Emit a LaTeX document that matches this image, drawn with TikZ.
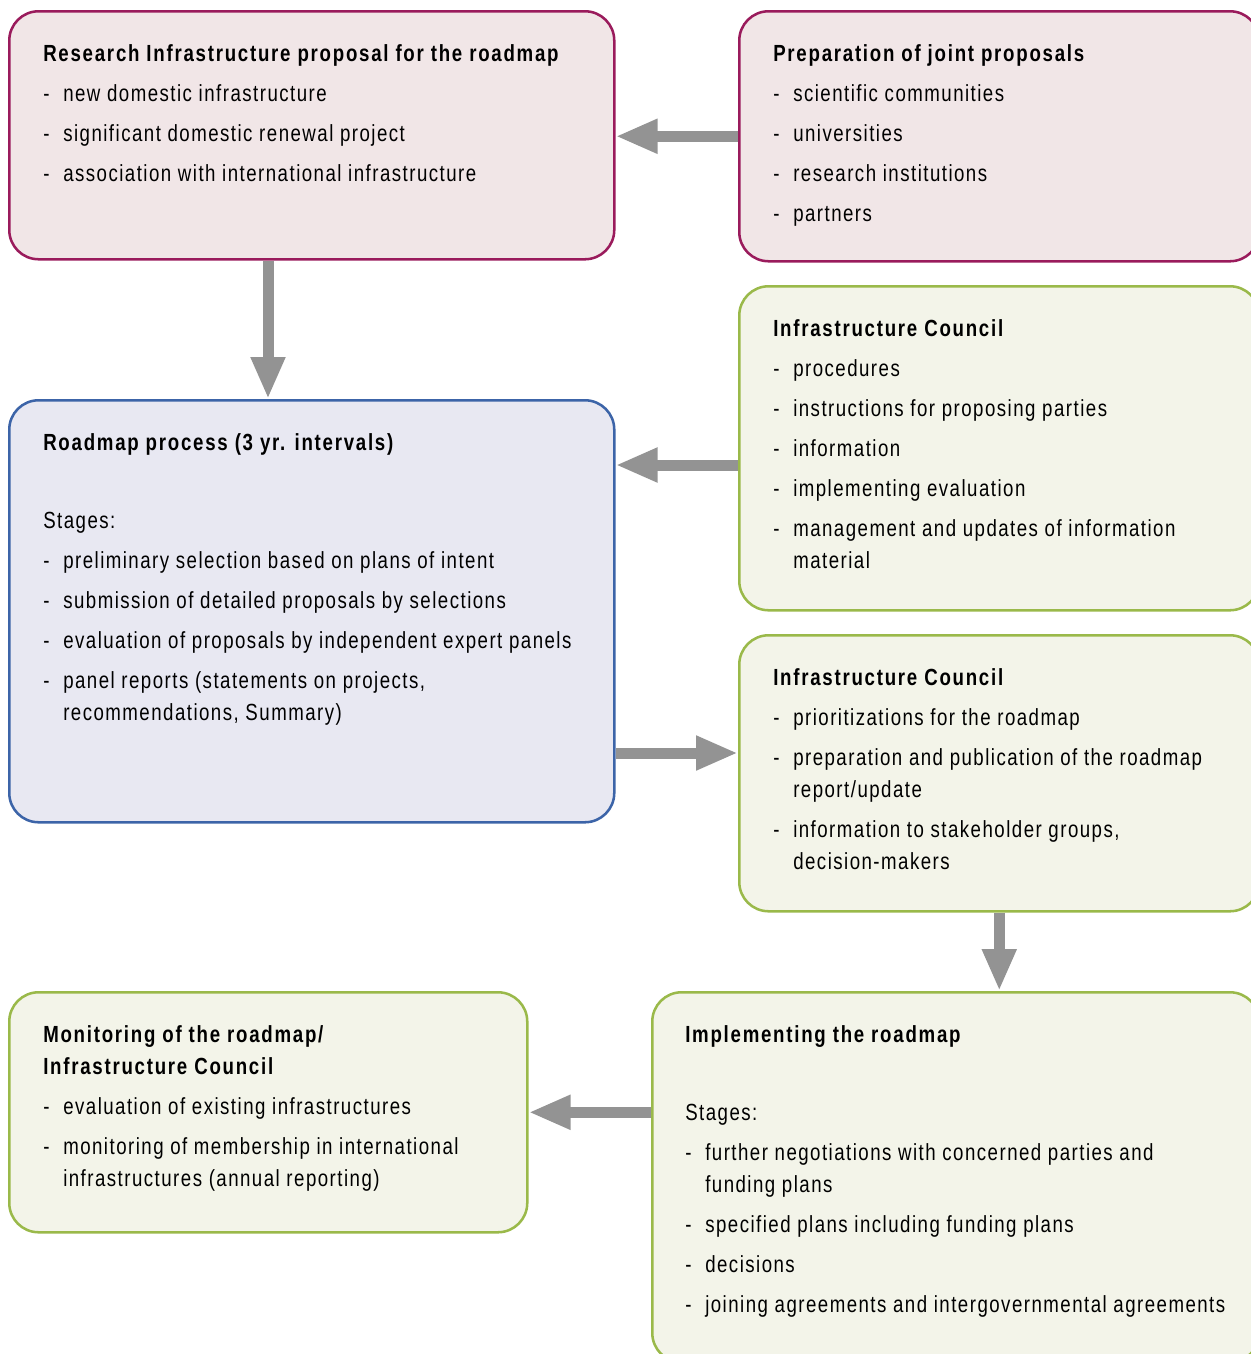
\documentclass[tikz,border=0pt]{standalone}
\usepackage{fontspec}
\setmainfont{Liberation Sans}[FakeStretch=0.8,LetterSpace=6.3,BoldFeatures={LetterSpace=7.5}]
\usetikzlibrary{arrows.meta,calc}

\definecolor{rimred}{HTML}{9A1B5C}
\definecolor{fillred}{HTML}{F1E6E7}
\definecolor{rimgreen}{HTML}{9AB94A}
\definecolor{fillgreen}{HTML}{F3F4E9}
\definecolor{rimblue}{HTML}{3C64A8}
\definecolor{fillblue}{HTML}{E8E8F2}
\definecolor{arrowgrey}{HTML}{939393}

\newcommand{\itm}[1]{\makebox[15pt][l]{-}#1}
\newcommand{\cnt}[1]{\hspace*{15pt}#1}

\begin{document}
\begin{tikzpicture}[x=0.75pt,y=0.75pt,yscale=-1,xscale=1,
  box/.style={draw,line width=1.9pt,rounded corners=22pt,anchor=north west,inner sep=0pt},
  redbox/.style={box,draw=rimred,fill=fillred},
  greenbox/.style={box,draw=rimgreen,fill=fillgreen},
  bluebox/.style={box,draw=rimblue,fill=fillblue},
  txt/.style={anchor=north west,inner sep=0pt,align=left,font=\fontsize{17.5}{24}\selectfont},
  flow/.style={draw=arrowgrey,line width=8.25pt,-{Triangle[length=31.5pt,width=24pt,fill=arrowgrey]}}]
\useasboundingbox (0,0) rectangle (1251,1354);

% boxes
\node[redbox,minimum width=453.75pt,minimum height=186pt] (res) at (8,10) {};
\node[redbox,minimum width=390pt,minimum height=187.5pt] (prep) at (738,10) {};
\node[greenbox,minimum width=390pt,minimum height=243pt] (ic1) at (738,285) {};
\node[bluebox,minimum width=453.75pt,minimum height=316.5pt] (road) at (8,399) {};
\node[greenbox,minimum width=390pt,minimum height=207pt] (ic2) at (738,634) {};
\node[greenbox,minimum width=455.25pt,minimum height=277.5pt] (impl) at (651,991) {};
\node[greenbox,minimum width=388.5pt,minimum height=180pt] (mon) at (8,991) {};

% texts
\node[txt] (restxt) at (43,38.6) {\strut\textbf{Research Infrastructure proposal for the roadmap}\\[6pt]
  \itm{new domestic infrastructure}\\[6pt]
  \itm{significant domestic renewal project}\\[6pt]
  \itm{association with international infrastructure}};
\node[txt] (preptxt) at (773,38.6) {\strut\textbf{Preparation of joint proposals}\\[6pt]
  \itm{scientific communities}\\[6pt]
  \itm{universities}\\[6pt]
  \itm{research institutions}\\[6pt]
  \itm{partners}};
\node[txt] (ic1txt) at (773,313.6) {\strut\textbf{Infrastructure Council}\\[6pt]
  \itm{procedures}\\[6pt]
  \itm{instructions for proposing parties}\\[6pt]
  \itm{information}\\[6pt]
  \itm{implementing evaluation}\\[6pt]
  \itm{management and updates of information}\\
  \cnt{material}};
\node[txt] (roadtxt) at (43,427.6) {\strut\textbf{Roadmap process (3 yr. intervals)}\\[35pt]
  Stages:\\[6pt]
  \itm{preliminary selection based on plans of intent}\\[6pt]
  \itm{submission of detailed proposals by selections}\\[6pt]
  \itm{evaluation of proposals by independent expert panels}\\[6pt]
  \itm{panel reports (statements on projects,}\\
  \cnt{recommendations, Summary)}};
\node[txt] (ic2txt) at (773,662.6) {\strut\textbf{Infrastructure Council}\\[6pt]
  \itm{prioritizations for the roadmap}\\[6pt]
  \itm{preparation and publication of the roadmap}\\
  \cnt{report/update}\\[6pt]
  \itm{information to stakeholder groups,}\\
  \cnt{decision-makers}};
\node[txt] (impltxt) at (685,1019.6) {\strut\textbf{Implementing the roadmap}\\[35pt]
  Stages:\\[6pt]
  \itm{further negotiations with concerned parties and}\\
  \cnt{funding plans}\\[6pt]
  \itm{specified plans including funding plans}\\[6pt]
  \itm{decisions}\\[6pt]
  \itm{joining agreements and intergovernmental agreements}};
\node[txt] (montxt) at (43,1019.6) {\strut\textbf{Monitoring of the roadmap/}\\
  \textbf{Infrastructure Council}\\[6pt]
  \itm{evaluation of existing infrastructures}\\[6pt]
  \itm{monitoring of membership in international}\\
  \cnt{infrastructures (annual reporting)}};

% arrows
\draw[flow] (prep.west) -- (prep.west -| res.east);
\draw[flow] ($(res.south west)+(260,0)$) -- ($(road.north west)+(260,0)$);
\draw[flow] ($(ic1.north west)+(0,180)$) -- ($(road.north east)+(0,66)$);
\draw[flow] ($(road.north east)+(0,354)$) -- ($(ic2.north west)+(0,119)$);
\draw[flow] (ic2.south) -- (impl.north -| ic2.south);
\draw[flow] (mon.east -| impl.west) -- (mon.east);
\end{tikzpicture}
\end{document}
